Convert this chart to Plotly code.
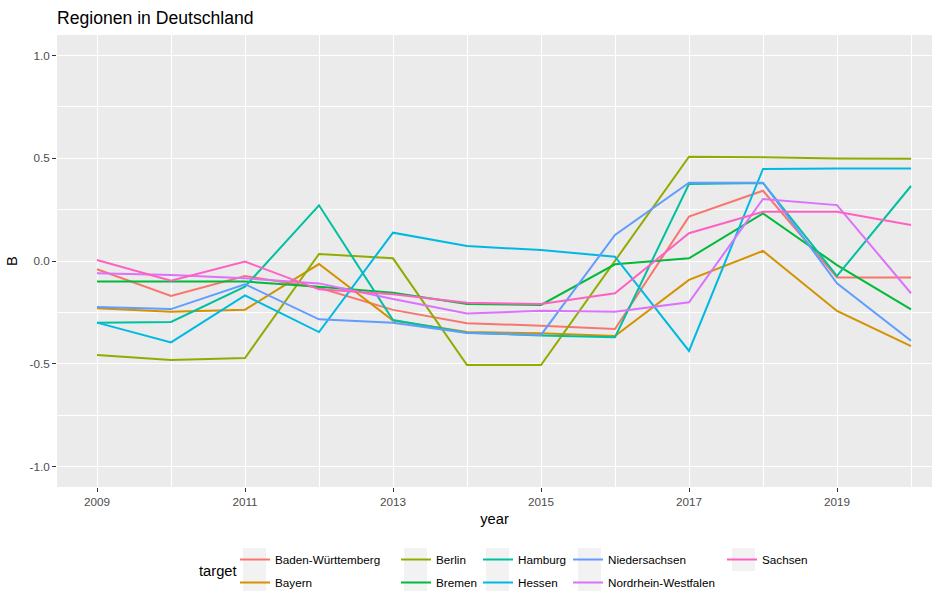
import plotly.graph_objects as go

years = list(range(2009, 2021))

baden_wuerttemberg = [-0.04, -0.17, -0.073, -0.13, -0.238, -0.303, -0.315, -0.331, 0.216, 0.342, -0.08, -0.08]
bayern = [-0.23, -0.247, -0.237, -0.015, -0.29, -0.345, -0.352, -0.365, -0.092, 0.049, -0.243, -0.414]
berlin = [-0.457, -0.482, -0.472, 0.034, 0.013, -0.506, -0.506, 0.0, 0.508, 0.505, 0.499, 0.498]
bremen = [-0.10, -0.10, -0.10, -0.125, -0.154, -0.209, -0.214, -0.016, 0.013, 0.232, -0.02, -0.235]
hamburg = [-0.30, -0.297, -0.125, 0.271, -0.287, -0.349, -0.363, -0.371, 0.375, 0.38, -0.073, 0.365]
hessen = [-0.30, -0.396, -0.167, -0.346, 0.138, 0.073, 0.053, 0.021, -0.438, 0.448, 0.45, 0.45]
niedersachsen = [-0.224, -0.234, -0.113, -0.284, -0.30, -0.35, -0.36, 0.127, 0.381, 0.381, -0.109, -0.388]
nrw = [-0.06, -0.068, -0.084, -0.109, -0.185, -0.256, -0.242, -0.247, -0.201, 0.302, 0.272, -0.157]
sachsen = [0.005, -0.096, -0.003, -0.138, -0.162, -0.203, -0.209, -0.157, 0.135, 0.24, 0.24, 0.175]

names = ["Baden-Württemberg", "Bayern", "Berlin", "Bremen", "Hamburg", "Hessen",
         "Niedersachsen", "Nordrhein-Westfalen", "Sachsen"]
values = [baden_wuerttemberg, bayern, berlin, bremen, hamburg, hessen, niedersachsen, nrw, sachsen]
colors = ["#F8766D", "#D39200", "#93AA00", "#00BA38", "#00C19F", "#00B9E3",
          "#619CFF", "#DB72FB", "#FF61C3"]
legend_ids = ["legend", "legend", "legend2", "legend2", "legend3", "legend3",
              "legend4", "legend4", "legend5"]

x_ticks = [2009, 2011, 2013, 2015, 2017, 2019]
x_minor = [2010, 2012, 2014, 2016, 2018, 2020]
y_ticks = [-1.0, -0.5, 0.0, 0.5, 1.0]
y_ticktext = ["-1.0", "-0.5", "0.0", "0.5", "1.0"]
y_minor = [-0.75, -0.25, 0.25, 0.75]

W, H = 938, 591
L, R, T, B = 57, 6, 35, 104
pw = W - L - R
ph = H - T - B
FONT = "Liberation Sans, Arial, sans-serif"


def pxx(px):
    return (px - L) / pw


def pyy(py):
    return (H - B - py) / ph


fig = go.Figure()
for nm, vals, col, lg in zip(names, values, colors, legend_ids):
    fig.add_trace(go.Scatter(x=years, y=vals, mode="lines", name=nm,
                             line=dict(color=col, width=2),
                             legend=lg, legendgroup=nm))

px_per_year = 74.0
x0 = 2009 - 40 / px_per_year
x1 = x0 + pw / px_per_year

legend_text_x = [275, 436, 518, 608, 762]
legends = {}
for k, tx in enumerate(legend_text_x):
    key = "legend" if k == 0 else f"legend{k+1}"
    legends[key] = dict(x=pxx(tx - 40), y=pyy(545), orientation="v",
                        xanchor="left", yanchor="top", bgcolor="rgba(0,0,0,0)",
                        font=dict(family=FONT, size=11.7, color="black"),
                        traceorder="grouped", tracegroupgap=4, itemwidth=30)

shapes = []
key_lefts = [243, 404, 486, 578, 732]
for k, kl in enumerate(key_lefts):
    rows = 2 if k < 4 else 1
    for r in range(rows):
        top = 548 + r * 23
        shapes.append(dict(type="rect", xref="paper", yref="paper",
                           x0=pxx(kl), x1=pxx(kl + 23), y0=pyy(min(top + 23, H)), y1=pyy(top),
                           fillcolor="#F2F2F2", line=dict(width=0), layer="below"))

fig.update_layout(
    width=W, height=H,
    margin=dict(l=L, r=R, t=T, b=B, autoexpand=False),
    paper_bgcolor="white", plot_bgcolor="#EBEBEB",
    font=dict(family=FONT, color="black"),
    title=dict(text="Regionen in Deutschland", x=L / W, xref="container", xanchor="left",
               y=1 - 18 / H, yref="container", yanchor="middle",
               font=dict(family=FONT, size=17.6, color="black")),
    showlegend=True,
    shapes=shapes,
    annotations=[dict(text="target", xref="paper", yref="paper", x=pxx(197), y=pyy(571),
                      xanchor="left", yanchor="middle", showarrow=False,
                      font=dict(family=FONT, size=14.7, color="black"))],
    **legends,
)

fig.update_xaxes(range=[x0, x1], tickmode="array", tickvals=x_ticks, automargin=False,
                 ticks="outside", ticklen=4, tickcolor="#333333", tickwidth=1,
                 tickfont=dict(family=FONT, size=11.7, color="#4D4D4D"),
                 showgrid=True, gridcolor="white", gridwidth=1.3,
                 minor=dict(tickmode="array", tickvals=x_minor, showgrid=True,
                            gridcolor="white", gridwidth=0.6, ticks=""),
                 zeroline=False, showline=False,
                 title=dict(text="year", standoff=6, font=dict(family=FONT, size=14.7, color="black")))
fig.update_yaxes(range=[-1.1, 1.1], tickmode="array", tickvals=y_ticks, ticktext=y_ticktext,
                 automargin=False,
                 ticks="outside", ticklen=4, tickcolor="#333333", tickwidth=1,
                 tickfont=dict(family=FONT, size=11.7, color="#4D4D4D"),
                 showgrid=True, gridcolor="white", gridwidth=1.3,
                 minor=dict(tickmode="array", tickvals=y_minor, showgrid=True,
                            gridcolor="white", gridwidth=0.6, ticks=""),
                 zeroline=False, showline=False,
                 title=dict(text="B", standoff=8, font=dict(family=FONT, size=14.7, color="black")))

fig.write_html("out.html", config={"displayModeBar": False},
               post_script="document.body.style.margin='0';")
